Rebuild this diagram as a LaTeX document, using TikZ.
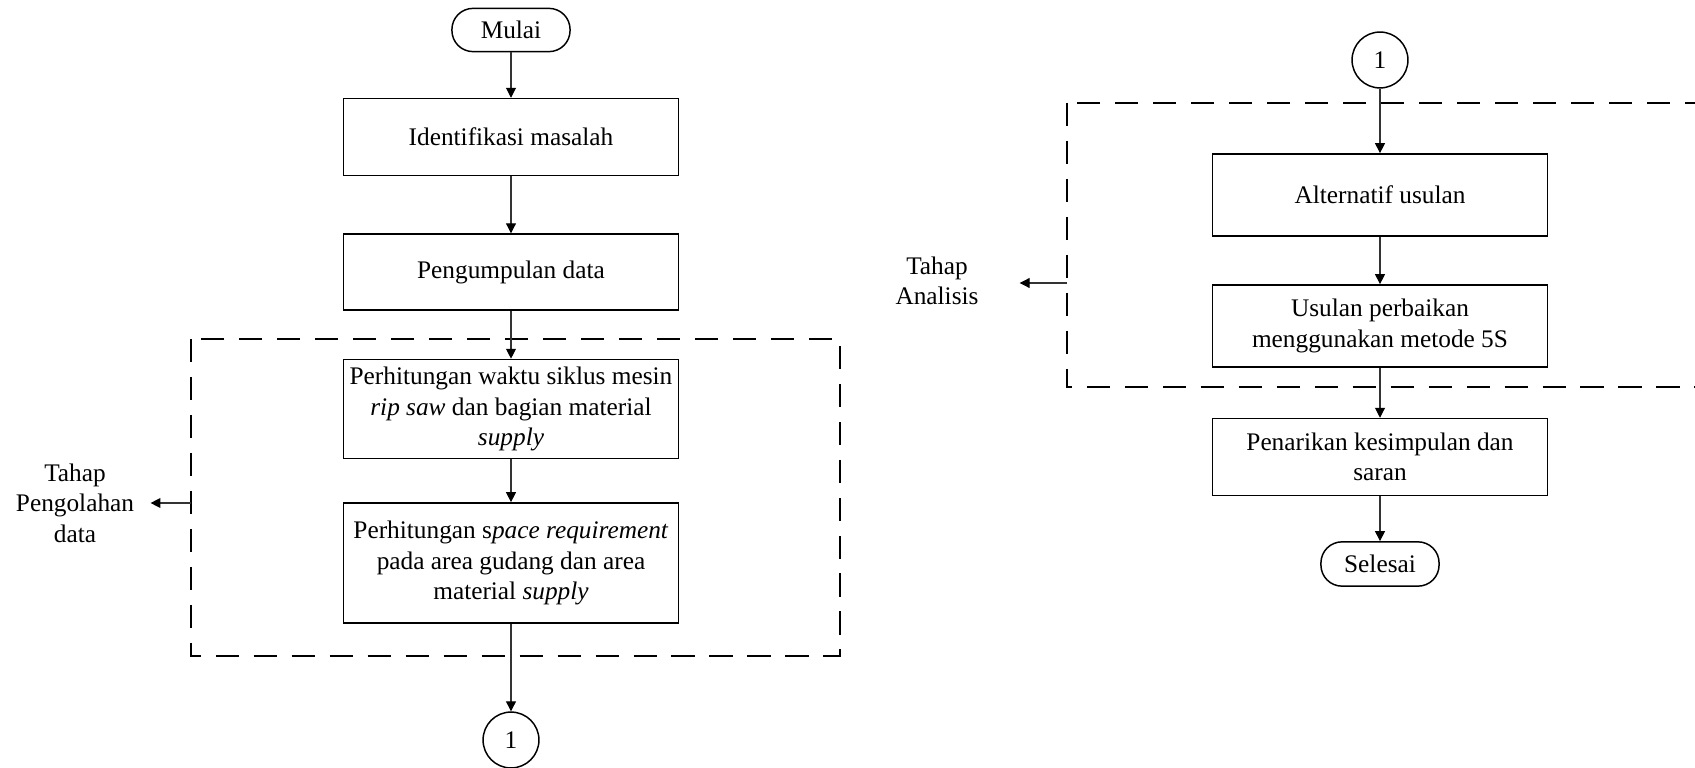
\documentclass[tikz,border=0pt]{standalone}
\usepackage{fontspec}
\setmainfont{Liberation Serif}
\usetikzlibrary{arrows.meta}
\begin{document}
\begin{tikzpicture}[x=0.474pt,y=-0.474pt,
	every node/.style={font=\fontsize{12pt}{14.4pt}\selectfont,align=center},
	prosesbox/.style={draw,line width=0.7pt,minimum width=159pt,inner sep=1pt},
	terminal/.style={draw,line width=0.7pt,rounded corners=10pt,minimum width=56pt,minimum height=20.5pt},
	konektor/.style={draw,circle,line width=0.7pt,minimum size=26.5pt,inner sep=0pt},
	tahapbox/.style={line width=0.7pt,dash pattern=on 11pt off 7pt},
	panah/.style={draw=black!80,line width=0.5pt,-{Triangle[length=4.7pt,width=4.7pt,black]}}]
					\useasboundingbox (0,0) rectangle (1695,768);
					\clip (0,0) rectangle (1695,768);

					\node[terminal] (mulai) at (511,30) {Mulai};
					\node[prosesbox,minimum height=36.5pt] (identifikasi) at (511,137) {Identifikasi masalah};
					\node[prosesbox,minimum height=36pt] (pengumpulan) at (511,272) {Pengumpulan data};
					\node[prosesbox,minimum height=47pt] (waktu) at (511,409) {Perhitungan waktu siklus mesin\\\textit{rip saw} dan bagian material\\\textit{supply}};
					\node[prosesbox,minimum height=57pt] (space) at (511,563) {Perhitungan s\textit{pace requirement}\\pada area gudang dan area\\material \textit{supply}};
					\node[konektor] (satuA) at (511,740) {1};

					\node[konektor] (satuB) at (1380,60) {1};
					\node[prosesbox,minimum height=39pt] (alternatif) at (1380,195) {Alternatif usulan};
					\node[prosesbox,minimum height=39pt] (usulan) at (1380,326) {Usulan perbaikan\\menggunakan metode 5S};
					\node[prosesbox,minimum height=36.5pt] (penarikan) at (1380,457) {Penarikan kesimpulan dan\\saran};
					\node[terminal,minimum height=21pt] (selesai) at (1380,564) {Selesai};

					\draw [tahapbox] (191,339) rectangle (840,656);
					\draw [tahapbox] (1067,103) rectangle (1730,387);
					\coordinate (olahkiri) at (191,503);
					\coordinate (analisiskiri) at (1067,283);

					\node (lblolah) at (75,503) {Tahap\\Pengolahan\\data};
					\node (lblanalisis) at (937,281) {Tahap\\Analisis};

					\draw [panah] (mulai) -- (identifikasi);
					\draw [panah] (identifikasi) -- (pengumpulan);
					\draw [panah] (pengumpulan) -- (waktu);
					\draw [panah] (waktu) -- (space);
					\draw [panah] (space) -- (satuA);
					\draw [panah] (satuB) -- (alternatif);
					\draw [panah] (alternatif) -- (usulan);
					\draw [panah] (usulan) -- (penarikan);
					\draw [panah] (penarikan) -- (selesai);

					\draw [panah,shorten >=4.3pt] (olahkiri) -- (lblolah.east);
					\draw [panah,shorten >=16pt] (analisiskiri) -- (lblanalisis.east |- analisiskiri);
				\end{tikzpicture}
\end{document}
